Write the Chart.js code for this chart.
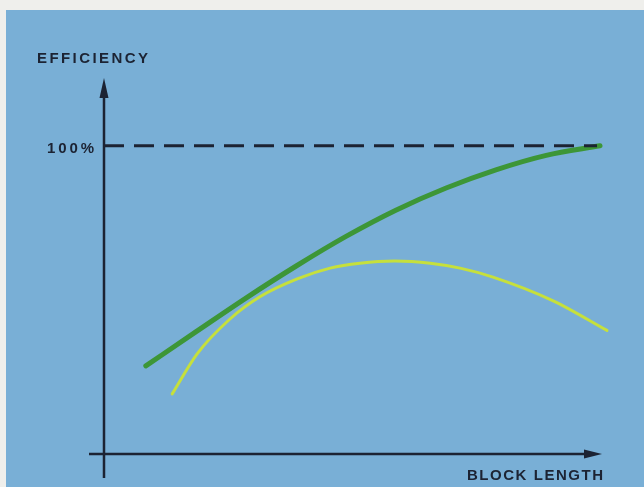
<!DOCTYPE html>
<html>
<head>
<meta charset="utf-8">
<script src="https://cdn.jsdelivr.net/npm/chart.js@4"></script>
<style>
  html, body { margin: 0; padding: 0; background: #efefec; }
  #wrap { width: 644px; height: 487px; }
</style>
</head>
<body>
<div id="wrap"><canvas id="chart"></canvas></div>
<script>
// values (x = block length, y = efficiency %)
const upperX = [0.84, 1.85, 2.85, 3.86, 4.86, 5.86, 6.87, 7.87, 8.88, 9.96];
const upperY = [28.6, 39.7, 50.6, 61.0, 70.6, 79.1, 86.3, 92.2, 96.9, 100];
const lowerX = [1.37, 1.87, 2.53, 3.13, 3.88, 4.54, 5.14, 5.84, 6.55, 7.15, 7.81, 9.02, 10.10];
const lowerY = [19.5, 32.5, 43.8, 51.0, 56.8, 60.3, 61.9, 62.6, 61.9, 60.3, 57.4, 49.7, 40.1];
const limitX = [0, 9.9];
const limitY = [100, 100];
const yTicks = [100];
const yTickLabels = ["100%"];
const yTitle = "EFFICIENCY";
const xTitle = "BLOCK LENGTH";

const toPoints = (xs, ys) => xs.map((x, i) => ({ x: x, y: ys[i] }));

const INK = "#1c2333";

function spacedText(ctx, text, x, y, width) {
  ctx.letterSpacing = "0px";
  const w = ctx.measureText(text).width;
  const sp = (width - w) / (text.length - 1);
  ctx.letterSpacing = sp + "px";
  ctx.fillText(text, x, y);
  ctx.letterSpacing = "0px";
}

const paperPlugin = {
  id: "paper",
  beforeDraw(chart) {
    const ctx = chart.ctx;
    ctx.save();
    ctx.fillStyle = "#efefec";
    ctx.fillRect(0, 0, chart.width, chart.height);
    ctx.fillStyle = "#79afd6";
    ctx.fillRect(6, 10, chart.width - 6, chart.height - 10);
    ctx.restore();
  },
  beforeDatasetsDraw(chart) {
    const ctx = chart.ctx;
    const xs = chart.scales.x, ys = chart.scales.y;
    const x0 = xs.getPixelForValue(0);
    const y0 = ys.getPixelForValue(0);
    ctx.save();
    ctx.strokeStyle = INK;
    ctx.fillStyle = INK;
    ctx.lineWidth = 2.5;
    // y axis
    ctx.beginPath();
    ctx.moveTo(x0, y0 + 24);
    ctx.lineTo(x0, ys.top + 12);
    ctx.stroke();
    ctx.beginPath();
    ctx.moveTo(x0, ys.top);
    ctx.lineTo(x0 - 4.5, ys.top + 20);
    ctx.lineTo(x0 + 4.5, ys.top + 20);
    ctx.closePath();
    ctx.fill();
    // x axis
    ctx.beginPath();
    ctx.moveTo(x0 - 15, y0);
    ctx.lineTo(xs.right - 12, y0);
    ctx.stroke();
    ctx.beginPath();
    ctx.moveTo(xs.right, y0);
    ctx.lineTo(xs.right - 18, y0 - 4.5);
    ctx.lineTo(xs.right - 18, y0 + 4.5);
    ctx.closePath();
    ctx.fill();
    // text
    ctx.font = "bold 15px 'Liberation Sans'";
    ctx.textBaseline = "alphabetic";
    ctx.textAlign = "left";
    spacedText(ctx, yTitle, 37, 63, 111);
    spacedText(ctx, xTitle, 467, 480, 136);
    yTicks.forEach((v, i) => {
      const py = ys.getPixelForValue(v);
      spacedText(ctx, yTickLabels[i], 47, py + 7, 47);
    });
    ctx.restore();
  }
};

new Chart(document.getElementById("chart"), {
  type: "scatter",
  data: {
    datasets: [
      {
        data: toPoints(limitX, limitY),
        showLine: true,
        borderColor: INK,
        borderWidth: 3,
        borderDash: [20, 10],
        pointRadius: 0,
        clip: false,
      },
      {
        data: toPoints(upperX, upperY),
        showLine: true,
        borderColor: "#3d9637",
        borderWidth: 5,
        borderCapStyle: "round",
        cubicInterpolationMode: "monotone",
        pointRadius: 0,
        clip: false,
      },
      {
        data: toPoints(lowerX, lowerY),
        showLine: true,
        borderColor: "#c6e03c",
        borderWidth: 3,
        borderCapStyle: "round",
        cubicInterpolationMode: "monotone",
        pointRadius: 0,
        clip: false,
      },
    ],
  },
  options: {
    responsive: true,
    maintainAspectRatio: false,
    animation: false,
    layout: { padding: { left: 104, right: 42, top: 78, bottom: 33 } },
    scales: {
      x: { type: "linear", min: 0, max: 10, display: false },
      y: { type: "linear", min: 0, max: 122, display: false },
    },
    plugins: {
      legend: { display: false },
      tooltip: { enabled: false },
    },
  },
  plugins: [paperPlugin],
});
</script>
</body>
</html>
